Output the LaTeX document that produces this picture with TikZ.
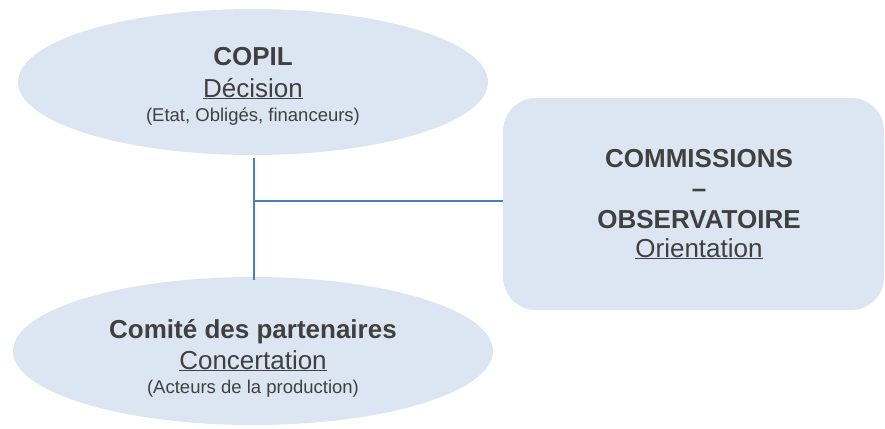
\documentclass[tikz,border=0pt]{standalone}
\usepackage{fontspec}
\setmainfont{Liberation Sans}
\usetikzlibrary{shapes.geometric}
\definecolor{boxfill}{HTML}{DCE6F2}
\definecolor{linecol}{HTML}{4A7EBB}
\definecolor{txt}{HTML}{404040}
\begin{document}
\begin{tikzpicture}[x=1pt,y=-1pt,
  shapebox/.style={fill=boxfill,draw=none,inner sep=0pt},
  oval/.style={shapebox,ellipse,minimum width=#1},
  big/.style={anchor=base,text=txt,inner sep=0pt,font=\fontsize{26}{30}\selectfont},
  bigb/.style={big,font=\fontsize{26}{30}\selectfont\bfseries},
  small/.style={anchor=base,text=txt,inner sep=0pt,font=\fontsize{18.5}{22}\selectfont},
  link/.style={draw=linecol,line width=1.3pt}]
\useasboundingbox (0,0) rectangle (885,428);
% shapes
\node[shapebox,ellipse,minimum width=470pt,minimum height=146pt] (copil) at (253,82) {};
\node[shapebox,ellipse,minimum width=480pt,minimum height=148pt] (comite) at (253,351) {};
\node[shapebox,rectangle,rounded corners=33pt,minimum width=381pt,minimum height=212pt] (comm) at (693.5,204) {};
% texts
\node[bigb] (t1) at (253,66) {COPIL};
\node[big] (t2) at (253,97) {\underline{Décision}};
\node[small] (t3) at (253,121) {(Etat, Obligés, financeurs)};
\node[bigb] (t4) at (699,167) {COMMISSIONS};
\node[bigb] (t5) at (699,197) {–};
\node[bigb] (t6) at (699,228) {OBSERVATOIRE};
\node[big] (t7) at (699,257) {\underline{Orientation}};
\node[bigb] (t8) at (253,338) {Comité des partenaires};
\node[big] (t9) at (253,369) {\underline{Concertation}};
\node[small] (t10) at (253,393) {(Acteurs de la production)};
% connectors
\coordinate (top) at (254,158);
\coordinate (bot) at (254,280);
\coordinate (j) at (254,201);
\draw[link] (top) -- (bot);
\draw[link] (j) -- (comm.west |- j);
\end{tikzpicture}
\end{document}
